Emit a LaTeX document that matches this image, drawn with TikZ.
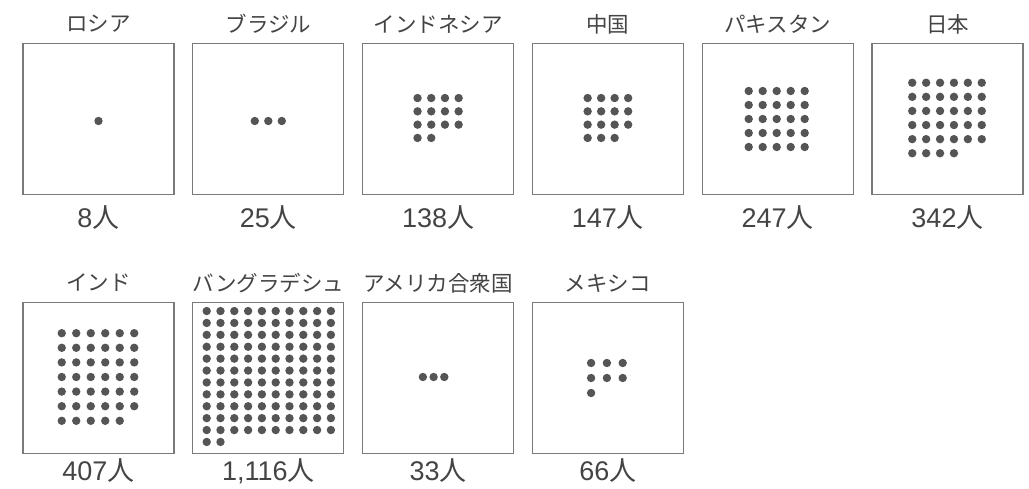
\documentclass[tikz,border=0pt]{standalone}
\usepackage{fontspec}
\setmainfont{Noto Sans CJK JP}
\newfontfamily\numfont{Liberation Sans}
\definecolor{boxc}{HTML}{7A7A7A}
\definecolor{dotc}{HTML}{555555}
\definecolor{txtc}{HTML}{444444}
\newcommand{\dotgrid}[6]{%
  \pgfmathtruncatemacro{\dgrows}{ceil(#1/#2)}%
  \pgfmathtruncatemacro{\dglast}{#1-1}%
  \foreach \k in {0,...,\dglast}{%
    \pgfmathtruncatemacro{\dgc}{mod(\k,#2)}%
    \pgfmathtruncatemacro{\dgr}{floor(\k/#2)}%
    \fill[dotc] ({#5+(\dgc-(#2-1)/2)*#3},{#6+(\dgr-(\dgrows-1)/2)*#4}) circle (4.2pt);
  }}
\newcommand{\ppl}[1]{{\numfont #1}人}
\begin{document}
\begin{tikzpicture}[x=1pt,y=-1pt,
  cbox/.style={draw=boxc,line width=1.1pt,minimum width=151pt,minimum height=151pt,inner sep=0pt},
  lab/.style={text=txtc,font=\fontsize{21.5pt}{25pt}\selectfont,inner sep=0pt},
  num/.style={text=txtc,font=\fontsize{27pt}{30pt}\selectfont,inner sep=0pt,anchor=base}]
\useasboundingbox (0,0) rectangle (1029,489);
% top row
\node[cbox] (b1) at (98.5,119) {};
\node[cbox] (b2) at (268.3,119) {};
\node[cbox] (b3) at (438.1,119) {};
\node[cbox] (b4) at (607.9,119) {};
\node[cbox] (b5) at (777.7,119) {};
\node[cbox] (b6) at (947.5,119) {};
% bottom row
\node[cbox] (b7) at (98.5,378) {};
\node[cbox] (b8) at (268.3,378) {};
\node[cbox] (b9) at (438.1,378) {};
\node[cbox] (b10) at (607.9,378) {};
% titles
\node[lab] (t1) at (98.5,24) {ロシア};
\node[lab] (t2) at (268.3,24) {ブラジル};
\node[lab] (t3) at (438.1,24) {インドネシア};
\node[lab] (t4) at (607.9,24) {中国};
\node[lab] (t5) at (777.7,24) {パキスタン};
\node[lab] (t6) at (947.5,24) {日本};
\node[lab] (t7) at (98.5,283) {インド};
\node[lab] (t8) at (268.3,283) {バングラデシュ};
\node[lab] (t9) at (438.1,283) {アメリカ合衆国};
\node[lab] (t10) at (607.9,283) {メキシコ};
% numbers
\node[num] (n1) at (98.5,228) {\ppl{8}};
\node[num] (n2) at (268.3,228) {\ppl{25}};
\node[num] (n3) at (438.1,228) {\ppl{138}};
\node[num] (n4) at (607.9,228) {\ppl{147}};
\node[num] (n5) at (777.7,228) {\ppl{247}};
\node[num] (n6) at (947.5,228) {\ppl{342}};
\node[num] (n7) at (98.5,480) {\ppl{407}};
\node[num] (n8) at (268.3,480) {\ppl{1,116}};
\node[num] (n9) at (438.1,480) {\ppl{33}};
\node[num] (n10) at (607.9,480) {\ppl{66}};
% dots
\begin{scope}[shift={(b1.center)}]\dotgrid{1}{1}{13.5}{13.5}{0}{2}\end{scope}
\begin{scope}[shift={(b2.center)}]\dotgrid{3}{3}{13.5}{13.5}{0}{2}\end{scope}
\begin{scope}[shift={(b3.center)}]\dotgrid{14}{4}{13.7}{13.3}{0}{-1}\end{scope}
\begin{scope}[shift={(b4.center)}]\dotgrid{15}{4}{13.5}{13.3}{0}{-1}\end{scope}
\begin{scope}[shift={(b5.center)}]\dotgrid{25}{5}{14}{14}{-1}{0}\end{scope}
\begin{scope}[shift={(b6.center)}]\dotgrid{34}{6}{13.9}{14.1}{-0.5}{-1}\end{scope}
\begin{scope}[shift={(b7.center)}]\dotgrid{41}{6}{14.5}{14.6}{-0.5}{-1}\end{scope}
\begin{scope}[shift={(b8.center)}]\dotgrid{112}{10}{13.8}{11.9}{0.5}{-1.5}\end{scope}
\begin{scope}[shift={(b9.center)}]\dotgrid{3}{3}{10.7}{10.7}{-4.5}{-1}\end{scope}
\begin{scope}[shift={(b10.center)}]\dotgrid{7}{3}{15.8}{15}{-1}{0}\end{scope}
\end{tikzpicture}
\end{document}
